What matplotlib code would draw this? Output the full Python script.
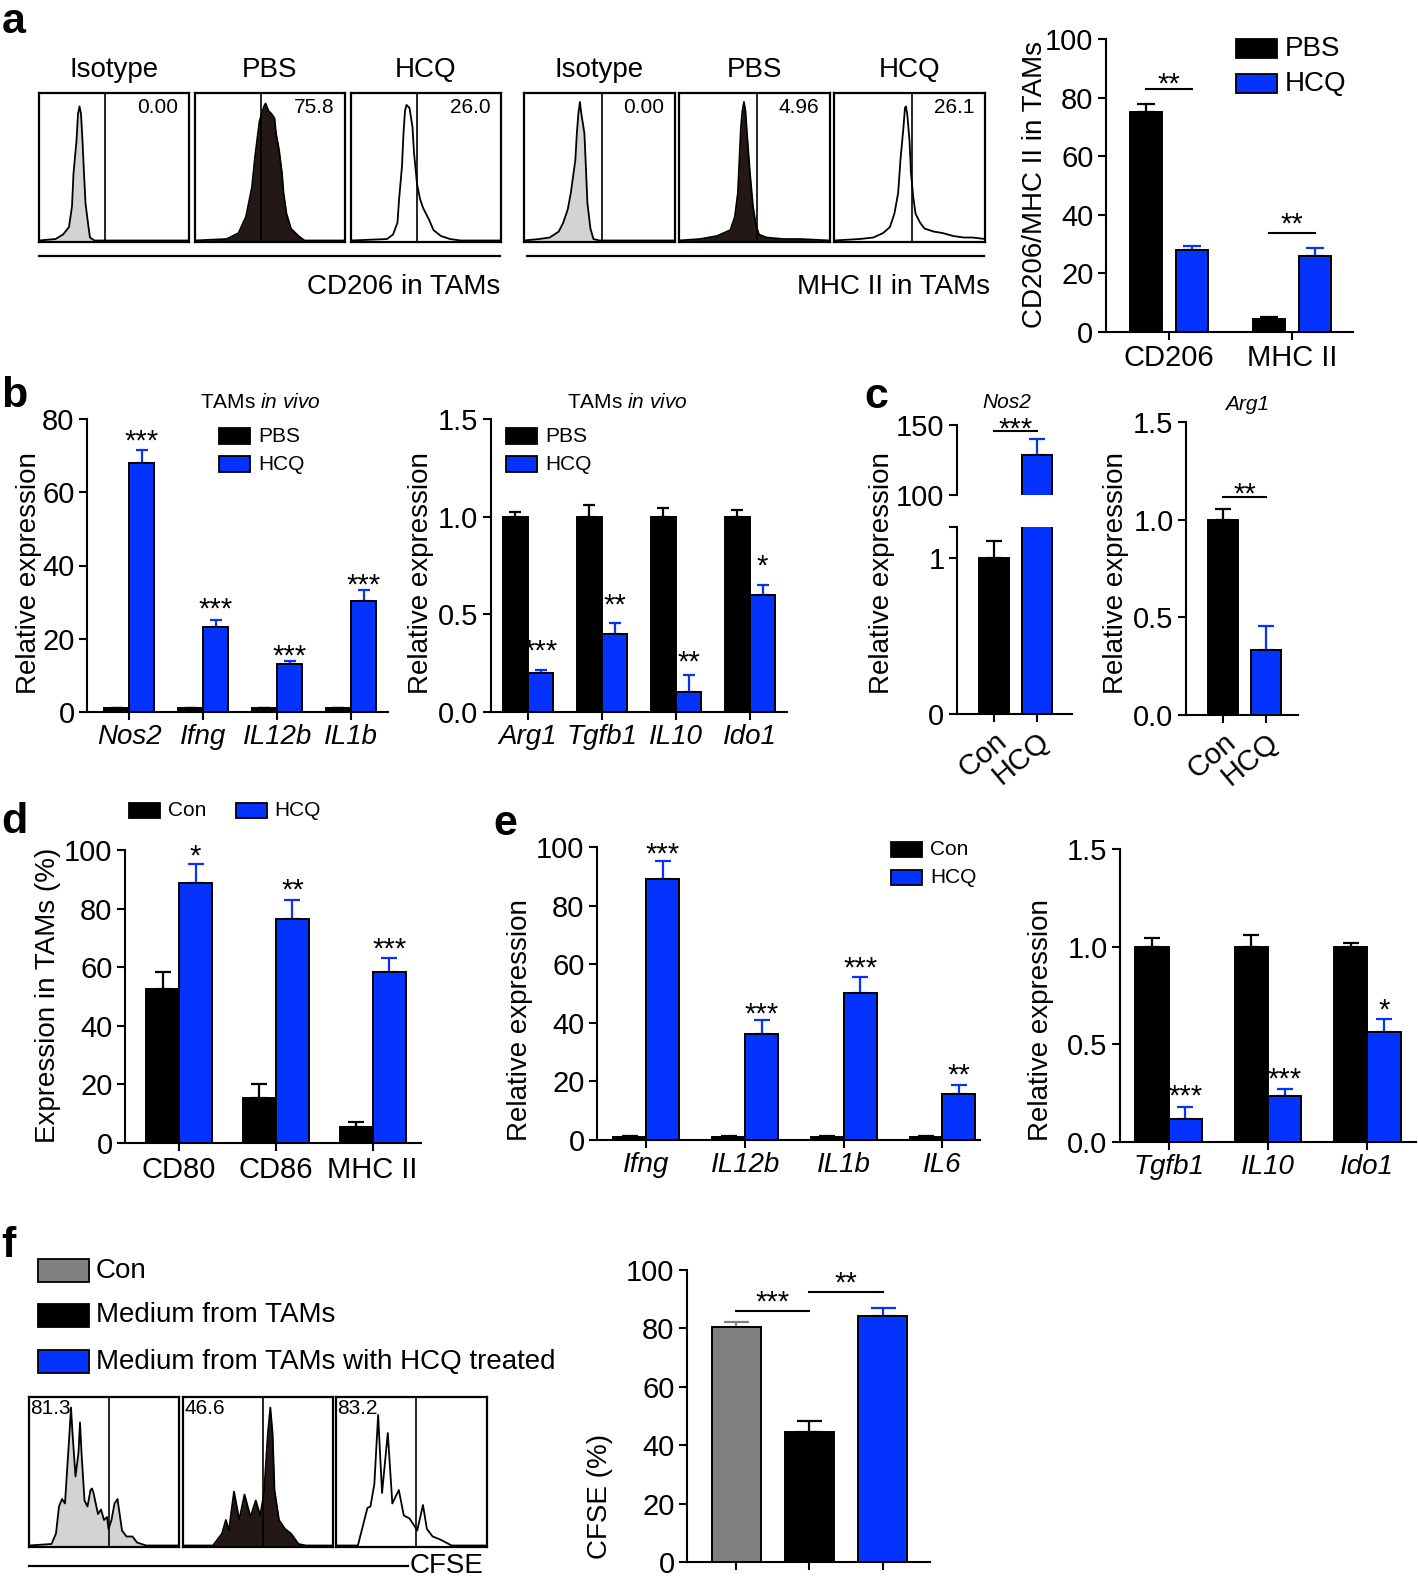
import numpy as np
import matplotlib
matplotlib.use("Agg")
import matplotlib.pyplot as plt
from matplotlib.patches import Rectangle

plt.rcParams["font.family"] = ["Liberation Sans", "DejaVu Sans"]
plt.rcParams["mathtext.fontset"] = "custom"
plt.rcParams["mathtext.rm"] = "Liberation Sans"
plt.rcParams["mathtext.it"] = "Liberation Sans:italic"

W, H = 1418, 1580
BLUE = "#0433FF"
GRAY = "#808080"
DARK = "#231815"
LIGHT = "#D3D3D3"

# ── data ──────────────────────────────────────────────────────────────────────
# a: flow histograms, points in % of the gate box (x, y)
A_CD206_ISO_X = [0, 11, 16, 20, 22, 23, 25, 26, 27, 28, 29, 30, 31, 33, 34, 37, 100]
A_CD206_ISO_Y = [1, 2, 5, 10, 24, 46, 68, 86, 91, 86, 68, 46, 26, 10, 3, 1, 1]
A_CD206_PBS_X = [0, 21, 29, 34, 38, 40, 42, 43, 46, 47, 49, 51, 53, 54, 56, 58, 59, 61, 64, 69, 73, 100]
A_CD206_PBS_Y = [1, 2, 6, 17, 37, 57, 73, 81, 91, 93, 88, 86, 83, 73, 62, 46, 33, 19, 9, 4, 1, 1]
A_CD206_HCQ_X = [0, 24, 28, 31, 32, 34, 35, 36, 37, 39, 41, 42, 44, 46, 48, 52, 55, 60, 66, 73, 100]
A_CD206_HCQ_Y = [1, 2, 5, 13, 28, 51, 73, 88, 92, 90, 77, 60, 39, 29, 23, 15, 8, 4, 2, 1, 1]
A_MHC_ISO_X = [0, 10, 17, 23, 26, 29, 31, 34, 35, 36, 37, 38, 40, 41, 42, 44, 46, 50, 100]
A_MHC_ISO_Y = [1, 2, 3, 7, 13, 22, 33, 55, 73, 86, 94, 86, 73, 50, 26, 9, 2, 1, 1]
A_MHC_PBS_X = [0, 14, 25, 34, 37, 39, 40, 41, 42, 43, 44, 45, 47, 49, 51, 53, 58, 69, 80, 100]
A_MHC_PBS_Y = [1, 2, 4, 8, 17, 33, 55, 77, 88, 94, 88, 73, 46, 24, 11, 5, 3, 2, 2, 1]
A_MHC_HCQ_X = [0, 17, 26, 32.5, 37, 40, 42.5, 44, 46, 47, 47.6, 48.5, 50, 51, 52.5, 54, 57, 60, 66, 72, 79, 86, 92, 100]
A_MHC_HCQ_Y = [1, 2, 3, 6, 10, 19, 33, 55, 77, 90, 91, 86, 68, 46, 30, 19, 13, 9, 7, 6, 4, 3, 3, 2]
A_HIST_TITLES = ["Isotype", "PBS", "HCQ"]
A_CD206_PCT = ["0.00", "75.8", "26.0"]
A_MHC_PCT = ["0.00", "4.96", "26.1"]

A_GROUPS = ["CD206", "MHC II"]
A_PBS = [75.2, 4.6]
A_PBS_ERR = [2.5, 0.6]
A_HCQ = [28.1, 26.1]
A_HCQ_ERR = [1.1, 2.6]
A_SIG_Y = [83.0, 33.8]
A_SIG_STAR_Y = [86.7, 38.7]
A_SIG_STARS = ["**", "**"]

# b: TAMs in vivo
B_GENES_L = ["Nos2", "Ifng", "IL12b", "IL1b"]
B_PBS_L = [1.0, 1.0, 1.0, 1.0]
B_PBS_L_ERR = [0.15, 0.15, 0.15, 0.15]
B_HCQ_L = [68.1, 23.1, 13.1, 30.2]
B_HCQ_L_ERR = [3.4, 2.0, 0.8, 3.1]
B_STARS_L = ["***", "***", "***", "***"]
B_STARS_L_Y = [75.6, 29.6, 17.0, 36.2]

B_GENES_R = ["Arg1", "Tgfb1", "IL10", "Ido1"]
B_PBS_R = [1.0, 1.0, 1.0, 1.0]
B_PBS_R_ERR = [0.026, 0.06, 0.043, 0.035]
B_HCQ_R = [0.2, 0.4, 0.1, 0.6]
B_HCQ_R_ERR = [0.016, 0.055, 0.09, 0.05]
B_STARS_R = ["***", "**", "**", "*"]
B_STARS_R_Y = [0.34, 0.578, 0.288, 0.776]

# c
C_LABELS = ["Con", "HCQ"]
C_NOS2 = [1.0, 128.6]
C_NOS2_ERR = [0.11, 11.4]
C_NOS2_SIG = 145.7
C_NOS2_STAR_Y = 151.4
C_ARG1 = [1.0, 0.332]
C_ARG1_ERR = [0.057, 0.123]
C_ARG1_SIG = 1.116
C_ARG1_STAR_Y = 1.159

# d
D_GROUPS = ["CD80", "CD86", "MHC II"]
D_CON = [52.7, 15.4, 5.5]
D_CON_ERR = [5.7, 4.6, 1.6]
D_HCQ = [88.9, 76.4, 58.3]
D_HCQ_ERR = [6.3, 6.5, 4.9]
D_STARS = ["*", "**", "***"]
D_STARS_Y = [100.0, 88.4, 68.1]

# e
E_GENES_L = ["Ifng", "IL12b", "IL1b", "IL6"]
E_CON_L = [1.0, 1.0, 1.0, 1.0]
E_CON_L_ERR = [0.3, 0.3, 0.3, 0.3]
E_HCQ_L = [89.2, 36.3, 50.3, 15.7]
E_HCQ_L_ERR = [5.9, 4.7, 5.3, 3.1]
E_STARS_L = ["***", "***", "***", "**"]
E_STARS_L_Y = [99.7, 45.0, 60.6, 24.1]

E_GENES_R = ["Tgfb1", "IL10", "Ido1"]
E_CON_R = [1.0, 1.0, 1.0]
E_CON_R_ERR = [0.046, 0.059, 0.017]
E_HCQ_R = [0.12, 0.237, 0.564]
E_HCQ_R_ERR = [0.059, 0.036, 0.068]
E_STARS_R = ["***", "***", "*"]
E_STARS_R_Y = [0.268, 0.35, 0.704]

# f
F_GROUPS = ["Con", "Medium from TAMs", "Medium from TAMs with HCQ treated"]
F_COLORS = [GRAY, "black", BLUE]
F_CFSE = [80.6, 44.6, 84.2]
F_CFSE_ERR = [1.5, 3.7, 2.9]
F_SIG_Y = [85.9, 92.6]
F_SIG_STAR_Y = [90.9, 97.7]
F_SIG_STARS = ["***", "**"]
F_CON_X = [0, 15, 18, 20, 22, 24, 25, 27, 28, 29, 31, 33, 34, 35, 37, 39, 41, 42, 43, 46, 48, 50, 52, 53, 55, 57, 59, 60, 62, 65, 69, 72, 78, 100]
F_CON_Y = [1, 2, 9, 27, 32, 29, 45, 76, 93, 76, 47, 63, 83, 63, 31, 27, 38, 39, 36, 22, 25, 18, 20, 12, 18, 29, 32, 25, 11, 7, 7, 3, 1, 1]
F_TAM_X = [0, 20, 26, 28.6, 30.6, 34, 37.5, 41, 45, 48.5, 51.5, 54, 56.6, 58.2, 59.7, 61, 64, 68, 72, 77, 82, 100]
F_TAM_Y = [1, 1, 9, 18, 11, 37, 18, 35, 20, 31, 21, 36, 76, 93, 76, 38, 18, 12, 9, 2, 1, 1]
F_HCQ_X = [0, 14.5, 20.8, 22.8, 25.4, 27.9, 30.5, 34.3, 37.3, 41.6, 44.9, 48.7, 51.3, 53.8, 57.6, 60.2, 64, 69, 76.6, 100]
F_HCQ_Y = [1, 1, 26, 27, 42, 88, 36, 76, 29, 38, 21, 19, 15, 11, 28, 12, 7, 5, 1, 1]
F_PCT = ["81.3", "46.6", "83.2"]

fig = plt.figure(figsize=(W / 100, H / 100), dpi=100)

YTICK_FS = 21
XTICK_FS = 20
STAR_FS = 21


# ── helpers ───────────────────────────────────────────────────────────────────

def axes_px(x0, y0, x1, y1):
    return fig.add_axes([x0 / W, 1 - y1 / H, (x1 - x0) / W, (y1 - y0) / H])


def style(ax):
    for s in ["top", "right"]:
        ax.spines[s].set_visible(False)
    for s in ["left", "bottom"]:
        ax.spines[s].set_linewidth(1.5)
    ax.tick_params(direction="out", length=6, width=1.5, pad=3)
    ax.tick_params(axis="y", labelsize=YTICK_FS)
    ax.tick_params(axis="x", labelsize=XTICK_FS)


def bars(ax, pos, vals, errs, color, width, cap):
    pos = np.asarray(pos, dtype=float)
    ax.bar(pos, vals, width, color=color, edgecolor="black", linewidth=1.4, zorder=3)
    ax.errorbar(pos, vals, yerr=[np.zeros(len(vals)), errs], fmt="none",
                ecolor=color, elinewidth=1.6, capsize=cap, capthick=1.6, zorder=2)


def stars(ax, xs, ys, labels, fs=STAR_FS):
    # asterisks sit high in the em box, shift so the glyphs centre on y
    for x, y, s in zip(xs, ys, labels):
        ax.annotate(s, (x, y), xytext=(0, -0.22 * fs), textcoords="offset points",
                    ha="center", va="center", fontsize=fs, annotation_clip=False)


def legend_px(entries, x0, x1, ys, tx, fs):
    for (label, color), (yt, yb) in zip(entries, ys):
        fig.add_artist(Rectangle((x0 / W, 1 - yb / H), (x1 - x0) / W, (yb - yt) / H,
                                 transform=fig.transFigure, facecolor=color,
                                 edgecolor="black", linewidth=1.3))
        fig.text(tx / W, 1 - (yt + yb) / 2 / H, label, fontsize=fs, va="center", ha="left")


def ylab(xc, yc, text, fs=20):
    fig.text(xc / W, 1 - yc / H, text, rotation=90, ha="center", va="center", fontsize=fs)


def letter(x, y, s):
    fig.text(x / W, 1 - y / H, s, fontsize=31, fontweight="bold", ha="left", va="baseline")


def hist_px(box, xs, ys, fill, gate, pct, where):
    ax = axes_px(*box)
    xs = np.asarray(xs) / 100
    ys = np.asarray(ys) / 100
    if fill:
        ax.fill_between(xs, 0, ys, color=fill, lw=0)
    ax.plot(xs, ys, color="black", lw=1.3)
    ax.axvline(gate, color="black", lw=1.2)
    ax.set_xlim(0, 1)
    ax.set_ylim(0, 1)
    ax.set_xticks([])
    ax.set_yticks([])
    for s in ax.spines.values():
        s.set_linewidth(1.6)
    if where == "right":
        ax.text(0.93, 0.9, pct, ha="right", va="center", fontsize=15, transform=ax.transAxes)
    else:
        ax.text(0.01, 0.985, pct, ha="left", va="top", fontsize=15, transform=ax.transAxes)
    return ax


def fmt1(ax, ticks):
    ax.set_yticks(ticks)
    ax.set_yticklabels([f"{t:.1f}" for t in ticks])


# ── a: histograms ─────────────────────────────────────────────────────────────
letter(2, 33, "a")
cd206_boxes = [(39, 93, 189, 242), (195, 93, 345, 242), (351, 93, 501, 242)]
mhc_boxes = [(524, 93, 675, 242), (679, 93, 830, 242), (834, 93, 985, 242)]
cd206_curves = [(A_CD206_ISO_X, A_CD206_ISO_Y, LIGHT), (A_CD206_PBS_X, A_CD206_PBS_Y, DARK),
                (A_CD206_HCQ_X, A_CD206_HCQ_Y, None)]
mhc_curves = [(A_MHC_ISO_X, A_MHC_ISO_Y, LIGHT), (A_MHC_PBS_X, A_MHC_PBS_Y, DARK),
              (A_MHC_HCQ_X, A_MHC_HCQ_Y, None)]
for boxes, curves, pcts, gate in [(cd206_boxes, cd206_curves, A_CD206_PCT, 0.437),
                                   (mhc_boxes, mhc_curves, A_MHC_PCT, 0.516)]:
    for box, (xs, ys, fill), pct, title in zip(boxes, curves, pcts, A_HIST_TITLES):
        hist_px(box, xs, ys, fill, gate, pct, "right")
        fig.text((box[0] + box[2]) / 2 / W, 1 - 70 / H, title, fontsize=20, ha="center", va="center")
for x0, x1, txt, tx in [(39, 500, "CD206 in TAMs", 500), (527, 984, "MHC II in TAMs", 990)]:
    fig.add_artist(plt.Line2D([x0 / W, x1 / W], [1 - 256 / H] * 2, color="black", lw=1.6,
                              transform=fig.transFigure))
    fig.text(tx / W, 1 - 287 / H, txt, fontsize=20, ha="right", va="center")

# ── a: bar chart ──────────────────────────────────────────────────────────────
ax = axes_px(1106, 39, 1353, 332)
style(ax)
g = np.arange(len(A_GROUPS))
bars(ax, g - 0.19, A_PBS, A_PBS_ERR, "black", 0.26, 6.5)
bars(ax, g + 0.19, A_HCQ, A_HCQ_ERR, BLUE, 0.26, 6.5)
for i in range(len(A_GROUPS)):
    ax.plot([g[i] - 0.19, g[i] + 0.19], [A_SIG_Y[i]] * 2, color="black", lw=1.5)
stars(ax, g, A_SIG_STAR_Y, A_SIG_STARS)
ax.set_xlim(-0.512, 1.496)
ax.set_ylim(0, 100)
ax.set_yticks([0, 20, 40, 60, 80, 100])
ax.set_xticks(g)
ax.set_xticklabels(A_GROUPS, fontsize=21)
ylab(1035, 184, "CD206/MHC II in TAMs")
legend_px([("PBS", "black"), ("HCQ", BLUE)], 1236, 1277, [(39, 58), (74, 93)], 1285, 20)

# ── b ─────────────────────────────────────────────────────────────────────────
letter(1, 407, "b")
for (x0, x1, xl, genes, pbs, pbs_e, hcq, hcq_e, st, st_y, ylim, ticks, tx, lx, yx) in [
    (87, 388, (-0.57, 3.5), B_GENES_L, B_PBS_L, B_PBS_L_ERR, B_HCQ_L, B_HCQ_L_ERR,
     B_STARS_L, B_STARS_L_Y, 80, [0, 20, 40, 60, 80], 260, 219, 29),
    (491, 787, (-0.5, 3.5), B_GENES_R, B_PBS_R, B_PBS_R_ERR, B_HCQ_R, B_HCQ_R_ERR,
     B_STARS_R, B_STARS_R_Y, 1.5, [0, 0.5, 1.0, 1.5], 627, 506, 421)]:
    ax = axes_px(x0, 419, x1, 712)
    style(ax)
    g = np.arange(len(genes))
    bars(ax, g - 0.17, pbs, pbs_e, "black", 0.34, 4.5)
    bars(ax, g + 0.17, hcq, hcq_e, BLUE, 0.34, 4.5)
    stars(ax, g + 0.17, st_y, st)
    ax.set_xlim(*xl)
    ax.set_ylim(0, ylim)
    if ylim < 10:
        fmt1(ax, ticks)
    else:
        ax.set_yticks(ticks)
    ax.set_xticks(g)
    ax.set_xticklabels(genes, fontstyle="italic", fontsize=XTICK_FS)
    fig.text(tx / W, 1 - 403 / H, r"TAMs $\mathit{in\ vivo}$", fontsize=15, ha="center", va="center")
    legend_px([("PBS", "black"), ("HCQ", BLUE)], lx, lx + 31, [(428, 444), (456, 472)], lx + 39, 15)
    ylab(yx, 573, "Relative expression")

# ── c ─────────────────────────────────────────────────────────────────────────
letter(864, 408, "c")
cx = np.arange(len(C_LABELS))
cols = ["black", BLUE]
low = axes_px(957, 527, 1072, 714)
up = axes_px(957, 425, 1072, 495)
for a_ in (low, up):
    style(a_)
    for i in range(2):
        bars(a_, [cx[i]], [C_NOS2[i]], [C_NOS2_ERR[i]], cols[i], 0.7, 6)
    a_.set_xlim(-0.86, 1.81)
low.set_ylim(0, 1.2)
low.set_yticks([0, 1, 1.2])
low.set_yticklabels(["0", "1", ""])
low.set_xticks(cx)
low.set_xticklabels(C_LABELS, rotation=40, ha="right", rotation_mode="anchor", fontsize=21)
up.set_ylim(100, 150)
up.set_yticks([100, 150])
up.spines["bottom"].set_visible(False)
up.set_xticks([])
up.plot([cx[0], cx[1]], [C_NOS2_SIG] * 2, color="black", lw=1.5)
stars(up, [0.5], [C_NOS2_STAR_Y], ["***"])
fig.text(1007 / W, 1 - 403 / H, "Nos2", fontsize=15, fontstyle="italic", ha="center", va="center")
ylab(882, 573, "Relative expression")

ax = axes_px(1186, 422, 1298, 715)
style(ax)
for i in range(2):
    bars(ax, [cx[i]], [C_ARG1[i]], [C_ARG1_ERR[i]], cols[i], 0.68, 6)
ax.plot([cx[0], cx[1]], [C_ARG1_SIG] * 2, color="black", lw=1.5)
stars(ax, [0.5], [C_ARG1_STAR_Y], ["**"])
ax.set_xlim(-0.86, 1.74)
ax.set_ylim(0, 1.5)
fmt1(ax, [0, 0.5, 1.0, 1.5])
ax.set_xticks(cx)
ax.set_xticklabels(C_LABELS, rotation=40, ha="right", rotation_mode="anchor", fontsize=21)
fig.text(1247 / W, 1 - 405 / H, "Arg1", fontsize=15, fontstyle="italic", ha="center", va="center")
ylab(1116, 573, "Relative expression")

# ── d ─────────────────────────────────────────────────────────────────────────
letter(1, 833, "d")
ax = axes_px(125, 850, 421, 1143)
style(ax)
g = np.arange(len(D_GROUPS))
bars(ax, g - 0.17, D_CON, D_CON_ERR, "black", 0.34, 5.5)
bars(ax, g + 0.17, D_HCQ, D_HCQ_ERR, BLUE, 0.34, 5.5)
stars(ax, g + 0.17, D_STARS_Y, D_STARS)
ax.set_xlim(-0.56, 2.5)
ax.set_ylim(0, 100)
ax.set_yticks([0, 20, 40, 60, 80, 100])
ax.set_xticks(g)
ax.set_xticklabels(D_GROUPS, fontsize=21)
ylab(48, 995, "Expression in TAMs (%)")
legend_px([("Con", "black")], 129, 160, [(803, 818)], 168, 15)
legend_px([("HCQ", BLUE)], 236, 267, [(803, 818)], 274, 15)

# ── e ─────────────────────────────────────────────────────────────────────────
letter(493, 835, "e")
ax = axes_px(597, 847, 980, 1140)
style(ax)
g = np.arange(len(E_GENES_L))
bars(ax, g - 0.167, E_CON_L, E_CON_L_ERR, "black", 0.334, 5.5)
bars(ax, g + 0.167, E_HCQ_L, E_HCQ_L_ERR, BLUE, 0.334, 5.5)
stars(ax, g + 0.167, E_STARS_L_Y, E_STARS_L)
ax.set_xlim(-0.5, 3.38)
ax.set_ylim(0, 100)
ax.set_yticks([0, 20, 40, 60, 80, 100])
ax.set_xticks(g)
ax.set_xticklabels(E_GENES_L, fontstyle="italic", fontsize=XTICK_FS)
ylab(520, 1020, "Relative expression")
legend_px([("Con", "black"), ("HCQ", BLUE)], 891, 922, [(842, 857), (870, 885)], 930, 15)

ax = axes_px(1120, 849, 1416, 1142)
style(ax)
g = np.arange(len(E_GENES_R))
bars(ax, g - 0.167, E_CON_R, E_CON_R_ERR, "black", 0.334, 5.5)
bars(ax, g + 0.167, E_HCQ_R, E_HCQ_R_ERR, BLUE, 0.334, 5.5)
stars(ax, g + 0.167, E_STARS_R_Y, E_STARS_R)
ax.set_xlim(-0.49, 2.49)
ax.set_ylim(0, 1.5)
fmt1(ax, [0, 0.5, 1.0, 1.5])
ax.set_xticks(g)
ax.set_xticklabels(E_GENES_R, fontstyle="italic", fontsize=XTICK_FS)
ylab(1041, 1020, "Relative expression")

# ── f ─────────────────────────────────────────────────────────────────────────
letter(1, 1257, "f")
legend_px(list(zip(F_GROUPS, F_COLORS)), 38, 89,
          [(1259, 1282), (1304, 1327), (1350, 1373)], 96, 20)
f_boxes = [(29, 1397, 179, 1547), (183, 1397, 333, 1547), (336, 1397, 487, 1547)]
f_curves = [(F_CON_X, F_CON_Y, LIGHT), (F_TAM_X, F_TAM_Y, DARK), (F_HCQ_X, F_HCQ_Y, None)]
for box, (xs, ys, fill), pct in zip(f_boxes, f_curves, F_PCT):
    hist_px(box, xs, ys, fill, 0.53, pct, "left")
fig.add_artist(plt.Line2D([29 / W, 408 / W], [1 - 1566 / H] * 2, color="black", lw=1.6,
                          transform=fig.transFigure))
fig.text(410 / W, 1 - 1566 / H, "CFSE", fontsize=20, ha="left", va="center")

ax = axes_px(687, 1270, 930, 1562)
style(ax)
g = np.arange(len(F_CFSE))
for i in range(len(F_CFSE)):
    bars(ax, [g[i]], [F_CFSE[i]], [F_CFSE_ERR[i]], F_COLORS[i], 0.667, 9)
for i in range(2):
    ax.plot([g[i], g[i + 1]], [F_SIG_Y[i]] * 2, color="black", lw=1.5)
stars(ax, g[:2] + 0.5, F_SIG_STAR_Y, F_SIG_STARS)
ax.set_xlim(-0.667, 2.64)
ax.set_ylim(0, 100)
ax.set_yticks([0, 20, 40, 60, 80, 100])
ax.set_xticks(g)
ax.set_xticklabels([])
ylab(600, 1496, "CFSE (%)")

fig.savefig("out.png", dpi=100)
